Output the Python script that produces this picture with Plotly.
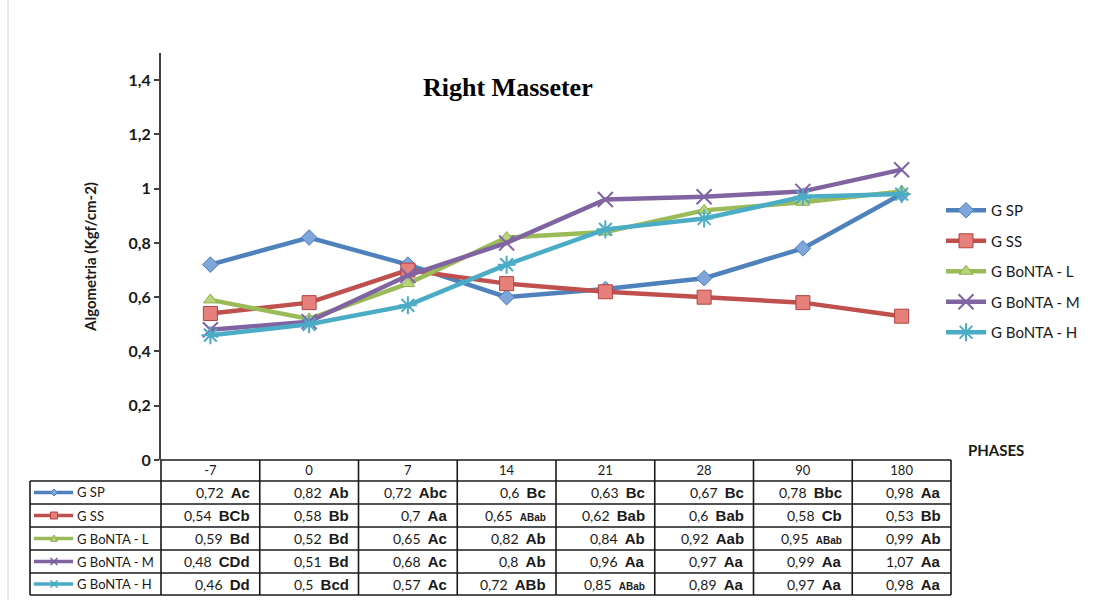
import plotly.graph_objects as go

# Phases (days) and group means of right masseter algometry
phases = ["-7", "0", "7", "14", "21", "28", "90", "180"]

g_sp = [0.72, 0.82, 0.72, 0.60, 0.63, 0.67, 0.78, 0.98]
g_ss = [0.54, 0.58, 0.70, 0.65, 0.62, 0.60, 0.58, 0.53]
g_bonta_l = [0.59, 0.52, 0.65, 0.82, 0.84, 0.92, 0.95, 0.99]
g_bonta_m = [0.48, 0.51, 0.68, 0.80, 0.96, 0.97, 0.99, 1.07]
g_bonta_h = [0.46, 0.50, 0.57, 0.72, 0.85, 0.89, 0.97, 0.98]

# Statistical grouping letters shown beside each mean
sig_sp = ["Ac", "Ab", "Abc", "Bc", "Bc", "Bc", "Bbc", "Aa"]
sig_ss = ["BCb", "Bb", "Aa", "ABab", "Bab", "Bab", "Cb", "Bb"]
sig_l = ["Bd", "Bd", "Ac", "Ab", "Ab", "Aab", "ABab", "Ab"]
sig_m = ["CDd", "Bd", "Ac", "Ab", "Aa", "Aa", "Aa", "Aa"]
sig_h = ["Dd", "Bcd", "Ac", "ABb", "ABab", "Aa", "Aa", "Aa"]

names = ["G SP", "G SS", "G BoNTA - L", "G BoNTA - M", "G BoNTA - H"]
values = [g_sp, g_ss, g_bonta_l, g_bonta_m, g_bonta_h]
letters = [sig_sp, sig_ss, sig_l, sig_m, sig_h]

line_colors = ["#4F81BD", "#C0504D", "#9BBB59", "#8064A2", "#4BACC6"]
fill_colors = ["#7EA6DA", "#E5807C", "#B7D47D", "#8064A2", "#4BACC6"]
edge_colors = ["#4A7EBB", "#B4433F", "#8EAE4C", "#7A5E9C", "#45A6C0"]
symbols = ["diamond", "square", "triangle-up", "x-thin-open", "asterisk-open"]
sizes = [12, 14, 12, 15, 15]

# Figure geometry (pixels)
FW, FH = 1115, 602
L, R, T, B = 161, 951, 53, 460
PW, PH = R - L, B - T


def px(x):
    return (x - L) / PW


def py(y):
    return (B - y) / PH


fig = go.Figure()

for i, name in enumerate(names):
    open_sym = symbols[i].endswith("open")
    fig.add_trace(go.Scatter(
        x=phases, y=values[i], name=name, mode="lines+markers",
        legendgroup=name,
        line=dict(color=line_colors[i], width=4.5),
        marker=dict(
            symbol=symbols[i], size=sizes[i],
            color=fill_colors[i],
            line=dict(color=edge_colors[i], width=2 if open_sym else 1),
        ),
    ))

shapes = []
annotations = []

# Data table below the axis
row_edges = [481, 504, 527, 550, 573, 595]
col_edges = [L + k * PW / len(phases) for k in range(len(phases) + 1)]
line_style = dict(color="#1a1a1a", width=1.6)

# horizontal rules
shapes.append(dict(type="line", xref="paper", yref="paper",
                   x0=px(L), x1=px(R), y0=py(460), y1=py(460), line=line_style))
for ry in row_edges:
    shapes.append(dict(type="line", xref="paper", yref="paper",
                       x0=px(30), x1=px(R), y0=py(ry), y1=py(ry), line=line_style))
# vertical rules
shapes.append(dict(type="line", xref="paper", yref="paper",
                   x0=px(30), x1=px(30), y0=py(481), y1=py(595), line=line_style))
for cx in col_edges:
    shapes.append(dict(type="line", xref="paper", yref="paper",
                       x0=px(cx), x1=px(cx), y0=py(460), y1=py(595), line=line_style))

# faint page edge on the left
shapes.append(dict(type="line", xref="paper", yref="paper",
                   x0=px(8), x1=px(8), y0=py(0), y1=py(600),
                   line=dict(color="#d4d4d4", width=1)))


def key_marker(kind, cx, cy, color, edge):
    """Small symbol path drawn on the table's legend keys."""
    s = 3.5
    if kind == 0:
        pts = [(cx, cy - s), (cx + s, cy), (cx, cy + s), (cx - s, cy)]
    elif kind == 1:
        pts = [(cx - s, cy - s), (cx + s, cy - s), (cx + s, cy + s), (cx - s, cy + s)]
    elif kind == 2:
        pts = [(cx, cy - s), (cx + s, cy + s * 0.8), (cx - s, cy + s * 0.8)]
    else:
        d = (f"M{px(cx - s)},{py(cy - s)} L{px(cx + s)},{py(cy + s)} "
             f"M{px(cx - s)},{py(cy + s)} L{px(cx + s)},{py(cy - s)}")
        return dict(type="path", xref="paper", yref="paper", path=d,
                    line=dict(color=edge, width=1.5))
    d = "M" + " L".join(f"{px(a)},{py(b)}" for a, b in pts) + " Z"
    return dict(type="path", xref="paper", yref="paper", path=d,
                fillcolor=color, line=dict(color=edge, width=1))


row_mid = [(row_edges[r] + row_edges[r + 1]) / 2 for r in range(5)]

for r in range(5):
    yc = py(row_mid[r])
    # legend key inside the table
    shapes.append(dict(type="line", xref="paper", yref="paper",
                       x0=px(34), x1=px(73), y0=yc, y1=yc,
                       line=dict(color=line_colors[r], width=3.5)))
    shapes.append(key_marker(r, 54, row_mid[r], fill_colors[r], edge_colors[r]))
    annotations.append(dict(
        text=names[r], xref="paper", yref="paper", x=px(75), y=yc,
        xanchor="left", yanchor="middle", showarrow=False,
        font=dict(family="Lato", size=13, color="#1a1a1a")))
    for c in range(len(phases)):
        val = f"{values[r][c]:g}".replace(".", ",")
        lab = letters[r][c]
        lab_size = 10 if len(lab) >= 4 else 15
        txt = (f"{val}\u00a0 <span style='font-family:Liberation Sans;"
               f"font-size:{lab_size}px;font-weight:bold'>{lab}</span>")
        annotations.append(dict(
            text=txt, xref="paper", yref="paper",
            x=px(col_edges[c + 1] - 8), y=yc,
            xanchor="right", yanchor="middle", showarrow=False,
            font=dict(family="Lato", size=14, color="#1a1a1a")))

# chart title and axis caption
annotations.append(dict(
    text="<b>Right Masseter</b>", xref="paper", yref="paper",
    x=px(508), y=py(87), xanchor="center", yanchor="middle", showarrow=False,
    font=dict(family="Liberation Serif", size=26, color="#000000")))
annotations.append(dict(
    text="<b>PHASES</b>", xref="paper", yref="paper",
    x=px(996), y=py(450), xanchor="center", yanchor="middle", showarrow=False,
    font=dict(family="Lato", size=15, color="#1a1a1a")))

fig.update_layout(
    width=FW, height=FH,
    margin=dict(l=L, r=FW - R, t=T, b=FH - B, pad=0),
    paper_bgcolor="white", plot_bgcolor="white",
    separators=", ",
    showlegend=True,
    legend=dict(
        x=px(941), y=py(194), xanchor="left", yanchor="top",
        font=dict(family="Lato", size=15, color="#1a1a1a"),
        tracegroupgap=8, itemwidth=40, bgcolor="rgba(0,0,0,0)",
    ),
    shapes=shapes,
    annotations=annotations,
    xaxis=dict(
        type="category", categoryorder="array", categoryarray=phases,
        range=[-0.5, len(phases) - 0.5],
        showgrid=False, zeroline=False, showline=False, ticks="",
        tickfont=dict(family="Lato", size=13, color="#1a1a1a"),
        ticklabelstandoff=1,
    ),
    yaxis=dict(
        range=[0, 1.5], tickvals=[0, 0.2, 0.4, 0.6, 0.8, 1, 1.2, 1.4],
        showgrid=False, zeroline=False,
        showline=True, linecolor="#404040", linewidth=2,
        ticks="outside", ticklen=5, tickwidth=1.5, tickcolor="#404040",
        tickfont=dict(family="Lato", size=16, color="#1a1a1a", weight="bold"),
        title=dict(text="Algometria (Kgf/cm-2)", standoff=28,
                   font=dict(family="Lato", size=15, color="#1a1a1a",
                             weight="bold")),
    ),
)

fig.write_html("out.html")
